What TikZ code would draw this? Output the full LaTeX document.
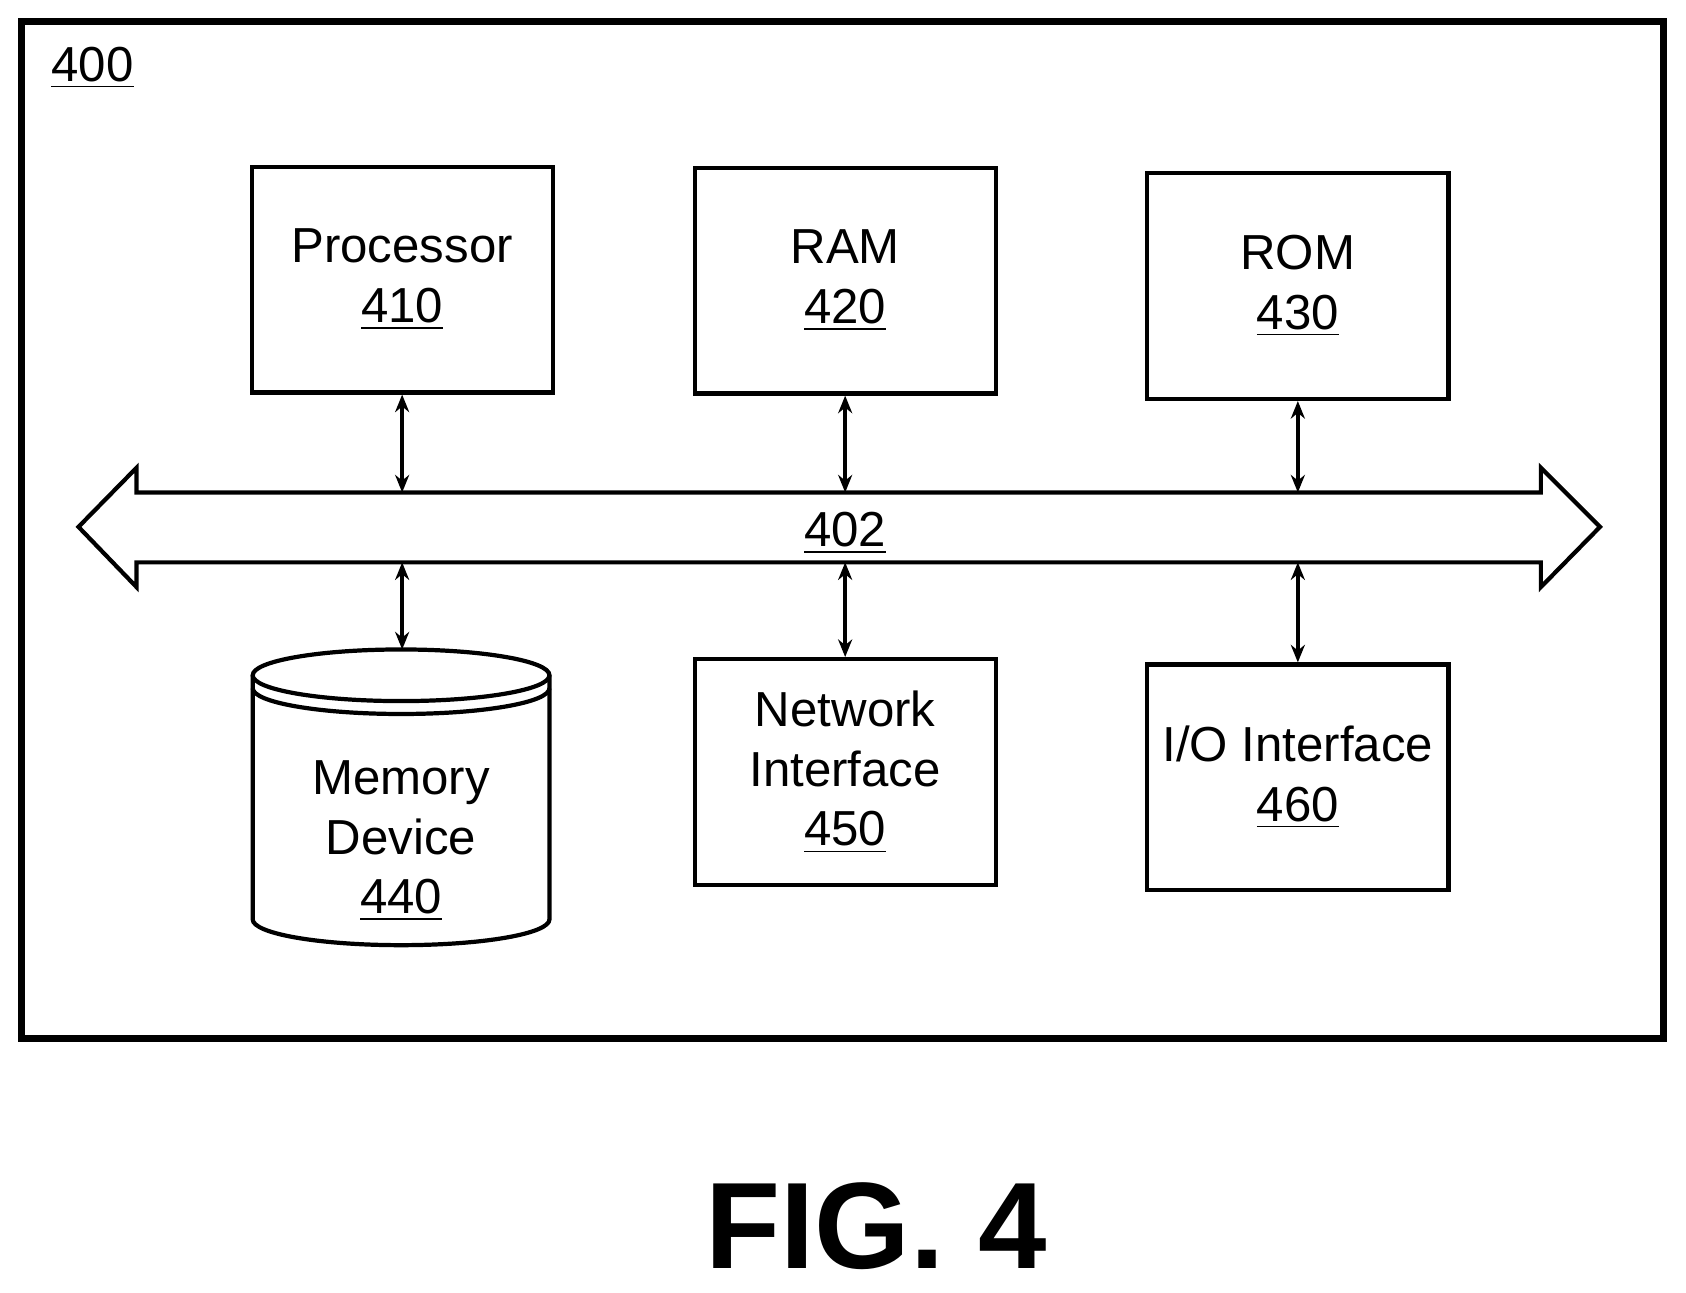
\documentclass[tikz,border=0pt]{standalone}
\usepackage{fontspec}
\setmainfont{Liberation Sans}
\usetikzlibrary{arrows.meta,positioning,calc}

\begin{document}
\begin{tikzpicture}[x=0.01075cm, y=-0.01075cm,
    box/.style={rectangle, draw, line width=1.2pt, minimum width=280*0.01075cm, minimum height=210*0.01075cm, align=center, font=\fontsize{14}{17}\selectfont},
    link/.style={{Stealth[length=5pt,width=4pt]}-{Stealth[length=5pt,width=4pt]}, line width=1pt},
    lbl/.style={font=\fontsize{14}{17}\selectfont, align=center}
]
    \useasboundingbox (0,0) rectangle (1568,1202);
    % Frame
    \draw[line width=2pt] (20,20) rectangle (1547,966);
    \node[lbl, anchor=center] (sys) at (86,63) {\underline{400}};

    % Top row
    \node[box] (proc) at (374,260) {Processor\\\underline{410}};
    \node[box] (ram) at (786,261) {RAM\\\underline{420}};
    \node[box] (rom) at (1207,266) {ROM\\\underline{430}};

    % Bus
    \draw[line width=1.2pt] (127,458) -- (127,435) -- (73,490) -- (127,546) -- (127,523)
        -- (1433,523) -- (1433,546) -- (1488,490) -- (1433,435) -- (1433,458) -- cycle;
    \node[lbl] (bus) at (786,496) {\underline{402}};
    \coordinate (b1) at (374,458); \coordinate (b2) at (786,458); \coordinate (b3) at (1207,458);
    \coordinate (c1) at (374,523); \coordinate (c2) at (786,523); \coordinate (c3) at (1207,523);

    % Memory device
    \draw[line width=1.2pt, fill=white] (235,628) -- (235,855) arc[start angle=180, end angle=0, x radius=138, y radius=24]
        -- (511,628);
    \draw[line width=1.2pt] (235,640) arc[start angle=180, end angle=0, x radius=138, y radius=24];
    \draw[line width=1.2pt] (373,628) ellipse[x radius=138, y radius=24];
    \coordinate (mtop) at (374,604);
    \node[lbl] (mem) at (373,782) {Memory\\Device\\\underline{440}};

    % Bottom row
    \node[box] (net) at (786,718) {Network\\Interface\\\underline{450}};
    \node[box] (io) at (1207,723) {I/O Interface\\\underline{460}};

    % Links
    \draw[link] (proc) -- (b1);
    \draw[link] (ram) -- (b2);
    \draw[link] (rom) -- (b3);
    \draw[link] (c1) -- (mtop);
    \draw[link] (c2) -- (net);
    \draw[link] (c3) -- (io);

    \node[font=\fontsize{35}{40}\selectfont\bfseries] (fig) at (815,1140) {FIG. 4};
\end{tikzpicture}
\end{document}
